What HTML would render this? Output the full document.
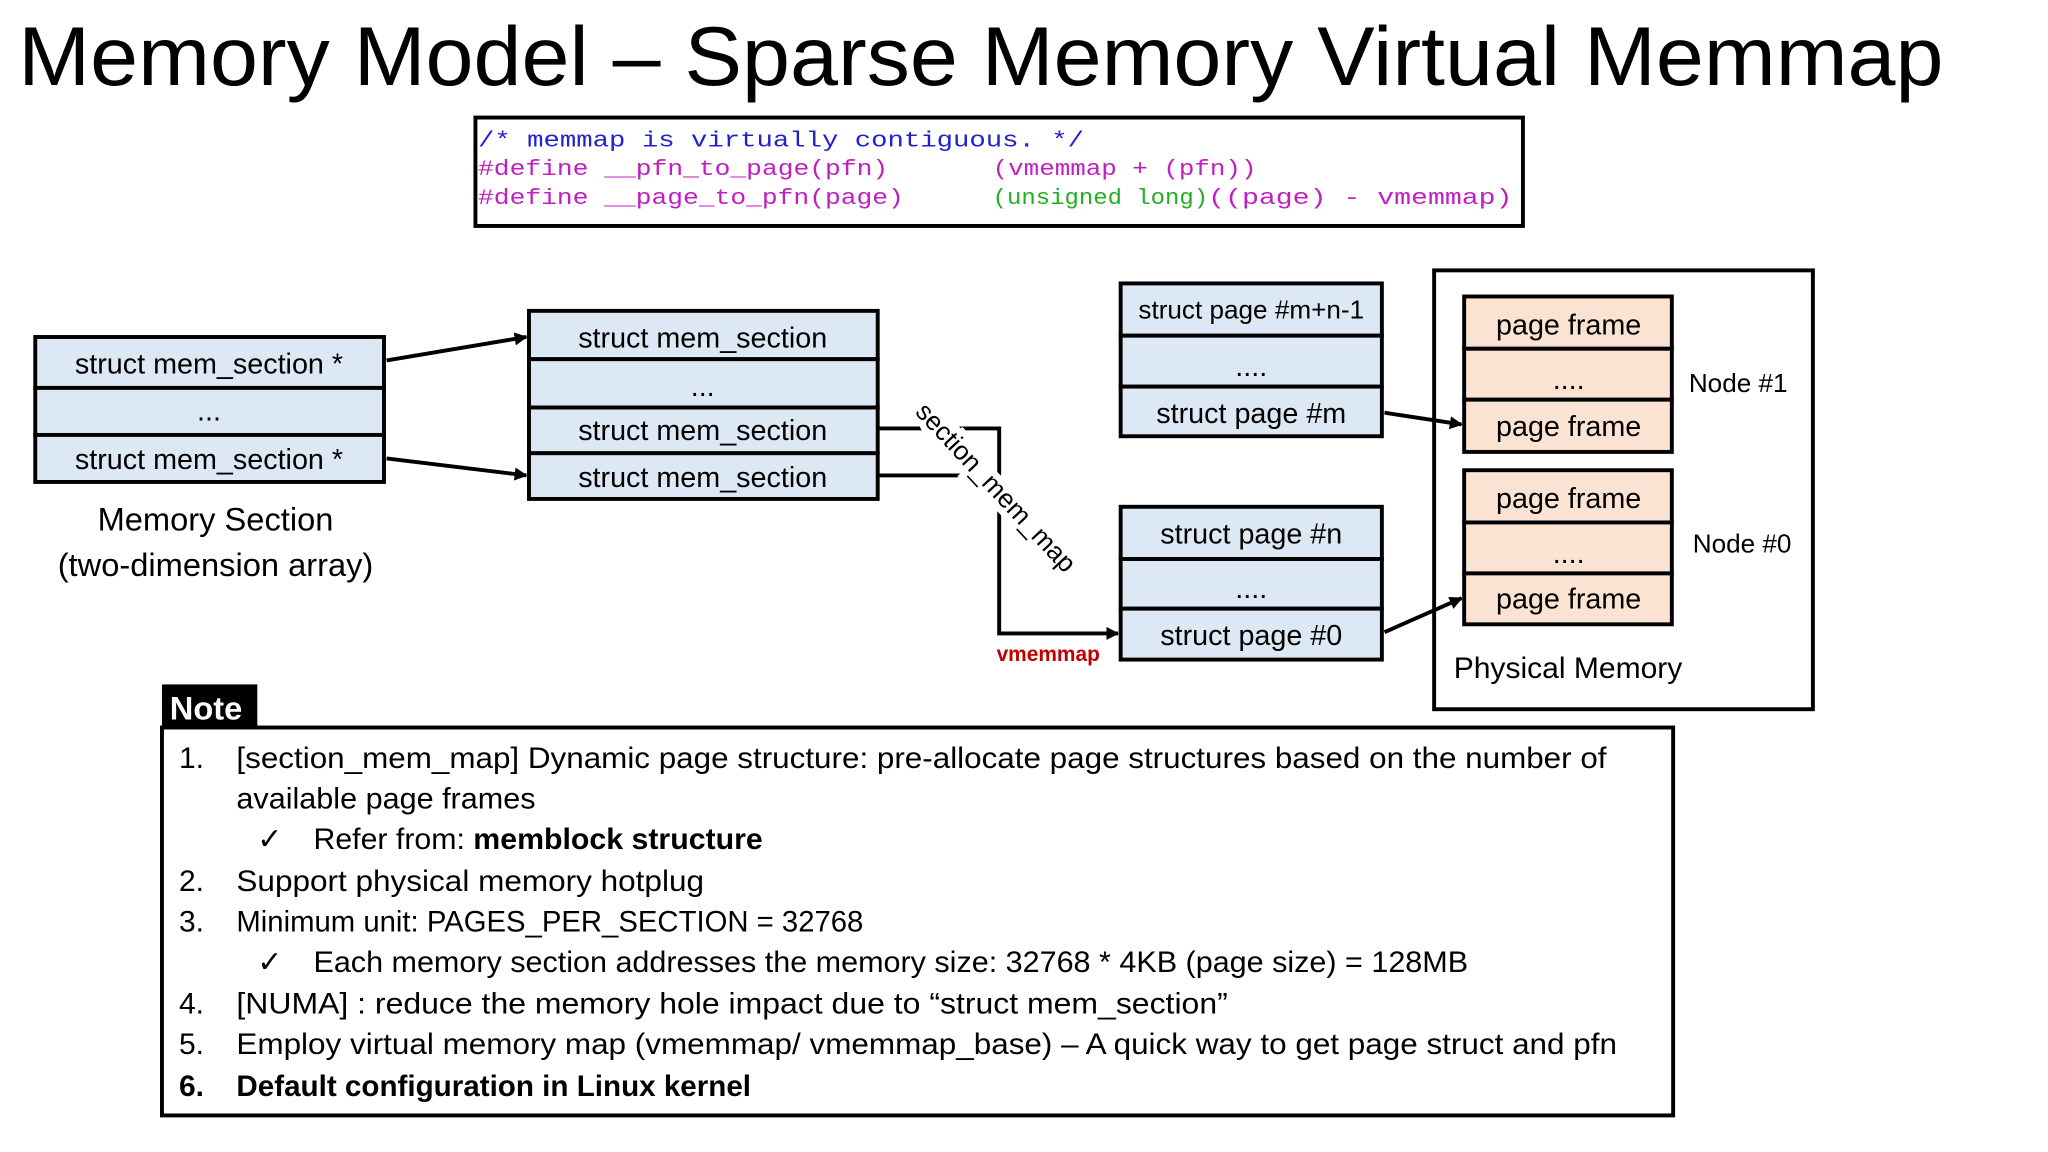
<!DOCTYPE html>
<html><head><meta charset="utf-8"><style>
html,body{margin:0;padding:0;background:#fff;}
svg{display:block;}
text{font-family:"Liberation Sans",sans-serif;}
.m{font-family:"Liberation Mono",monospace;font-size:17px;}
.c{font-size:22px;text-anchor:middle;}
.n{font-size:23px;}
</style></head><body>
<svg width="2048" height="1152" viewBox="0 0 1568 882" xmlns="http://www.w3.org/2000/svg">
<defs><marker id="ah" markerWidth="10" markerHeight="10" refX="9" refY="5" orient="auto" markerUnits="userSpaceOnUse"><path d="M0,0 L10,5 L0,10 z" fill="#000"/></marker></defs>
<rect width="1568" height="882" fill="#fff"/>
<text x="14" y="65" font-size="64" textLength="1474" lengthAdjust="spacingAndGlyphs">Memory Model – Sparse Memory Virtual Memmap</text>

<rect x="364" y="90" width="802" height="83" fill="#fff" stroke="#000" stroke-width="3"/>
<text class="m" x="366" y="112" fill="#2222cc" textLength="464" lengthAdjust="spacingAndGlyphs">/* memmap is virtually contiguous.  */</text>
<text class="m" x="366" y="134" fill="#c020c0" textLength="314" lengthAdjust="spacingAndGlyphs">#define __pfn_to_page(pfn)</text>
<text class="m" x="760" y="134" fill="#c020c0" textLength="202" lengthAdjust="spacingAndGlyphs">(vmemmap + (pfn))</text>
<text class="m" x="366" y="156" fill="#c020c0" textLength="326" lengthAdjust="spacingAndGlyphs">#define __page_to_pfn(page)</text>
<text class="m" x="760" y="156" fill="#20b020" textLength="165" lengthAdjust="spacingAndGlyphs">(unsigned long)</text>
<text class="m" x="925" y="156" fill="#c020c0" textLength="233" lengthAdjust="spacingAndGlyphs">((page) - vmemmap)</text>

<g fill="#dde8f5" stroke="#000" stroke-width="3">
<rect x="27" y="258" width="267" height="39"/><rect x="27" y="297" width="267" height="36"/><rect x="27" y="333" width="267" height="36"/>
<rect x="405" y="238" width="267" height="37"/><rect x="405" y="275" width="267" height="37"/><rect x="405" y="312" width="267" height="35"/><rect x="405" y="347" width="267" height="35"/>
<rect x="858" y="217" width="200" height="40"/><rect x="858" y="257" width="200" height="39"/><rect x="858" y="296" width="200" height="38"/>
<rect x="858" y="388" width="200" height="40"/><rect x="858" y="428" width="200" height="38"/><rect x="858" y="466" width="200" height="39"/>
</g>
<rect x="1098" y="207" width="290" height="336" fill="none" stroke="#000" stroke-width="3"/>
<g fill="#fbe3d3" stroke="#000" stroke-width="3">
<rect x="1121" y="227" width="159" height="40"/><rect x="1121" y="267" width="159" height="39"/><rect x="1121" y="306" width="159" height="40"/>
<rect x="1121" y="360" width="159" height="40"/><rect x="1121" y="400" width="159" height="39"/><rect x="1121" y="439" width="159" height="39"/>
</g>
<g class="c">
<text class="c" x="160" y="286">struct mem_section *</text>
<text class="c" x="160" y="322">...</text>
<text class="c" x="160" y="359">struct mem_section *</text>
<text class="c" x="538" y="266">struct mem_section</text>
<text class="c" x="538" y="303">...</text>
<text class="c" x="538" y="337">struct mem_section</text>
<text class="c" x="538" y="373">struct mem_section</text>
<text class="c" x="958" y="244" style="font-size:20px">struct page #m+n-1</text>
<text class="c" x="958" y="288">....</text>
<text class="c" x="958" y="324">struct page #m</text>
<text class="c" x="958" y="416">struct page #n</text>
<text class="c" x="958" y="458">....</text>
<text class="c" x="958" y="494">struct page #0</text>
<text class="c" x="1201" y="256">page frame</text>
<text class="c" x="1201" y="298">....</text>
<text class="c" x="1201" y="334">page frame</text>
<text class="c" x="1201" y="389">page frame</text>
<text class="c" x="1201" y="431">....</text>
<text class="c" x="1201" y="466">page frame</text>
</g>
<text x="1293" y="300" font-size="20">Node #1</text>
<text x="1296" y="423" font-size="20">Node #0</text>
<text x="1113" y="519" font-size="23">Physical Memory</text>
<text x="165" y="406" font-size="25" text-anchor="middle">Memory Section</text>
<text x="165" y="441" font-size="25" text-anchor="middle">(two-dimension array)</text>

<g stroke="#000" stroke-width="3" fill="none">
<line x1="296" y1="276" x2="403" y2="258" marker-end="url(#ah)"/>
<line x1="296" y1="351" x2="403" y2="364" marker-end="url(#ah)"/>
<polyline points="672,328 765,328 765,485 856,485" marker-end="url(#ah)"/>
<line x1="672" y1="364" x2="740" y2="364"/>
<line x1="1060" y1="316" x2="1119" y2="325" marker-end="url(#ah)"/>
<line x1="1060" y1="484" x2="1119" y2="458" marker-end="url(#ah)"/>
</g>
<text x="700" y="316" font-size="20" transform="rotate(47 700 316)" stroke="#fff" stroke-width="10" paint-order="stroke" fill="#000">section_mem_map</text>
<text x="763" y="506" font-size="16" font-weight="bold" fill="#c00000">vmemmap</text>

<rect x="124" y="524" width="73" height="34" fill="#000"/>
<text x="130" y="551" font-size="25" font-weight="bold" fill="#fff">Note</text>
<rect x="124" y="557" width="1157" height="297" fill="#fff" stroke="#000" stroke-width="3"/>
<g class="n">
<text class="n" x="137" y="588">1.</text>
<text class="n" x="181" y="588" textLength="1049" lengthAdjust="spacingAndGlyphs">[section_mem_map] Dynamic page structure: pre-allocate page structures based on the number of</text>
<text class="n" x="181" y="619" textLength="229" lengthAdjust="spacingAndGlyphs">available page frames</text>
<text class="n" x="197" y="650">✓</text>
<text class="n" x="240" y="650" textLength="344" lengthAdjust="spacingAndGlyphs">Refer from: <tspan font-weight="bold">memblock structure</tspan></text>
<text class="n" x="137" y="682">2.</text>
<text class="n" x="181" y="682" textLength="358" lengthAdjust="spacingAndGlyphs">Support physical memory hotplug</text>
<text class="n" x="137" y="713">3.</text>
<text class="n" x="181" y="713" textLength="480" lengthAdjust="spacingAndGlyphs">Minimum unit: PAGES_PER_SECTION = 32768</text>
<text class="n" x="197" y="744">✓</text>
<text class="n" x="240" y="744" textLength="884" lengthAdjust="spacingAndGlyphs">Each memory section addresses the memory size: 32768 * 4KB (page size) = 128MB</text>
<text class="n" x="137" y="776">4.</text>
<text class="n" x="181" y="776" textLength="759" lengthAdjust="spacingAndGlyphs">[NUMA] : reduce the memory hole impact due to “struct mem_section”</text>
<text class="n" x="137" y="807">5.</text>
<text class="n" x="181" y="807" textLength="1057" lengthAdjust="spacingAndGlyphs">Employ virtual memory map (vmemmap/ vmemmap_base) – A quick way to get page struct and pfn</text>
<text class="n" x="137" y="839" font-weight="bold">6.</text>
<text class="n" x="181" y="839" font-weight="bold" textLength="394" lengthAdjust="spacingAndGlyphs">Default configuration in Linux kernel</text>
</g>
</svg>
</body></html>
